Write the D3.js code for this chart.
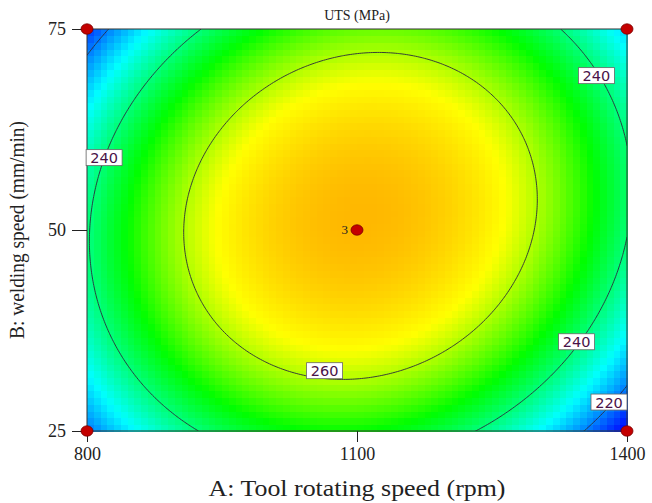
<!DOCTYPE html>
<html>
<head>
<meta charset="utf-8">
<script src="https://cdn.jsdelivr.net/npm/d3@7/dist/d3.min.js"></script>
<style>
  body { margin: 0; background: #fff; }
  svg { display: block; }
  .serif { font-family: "Liberation Serif", "Times New Roman", serif; }
</style>
</head>
<body>
<svg id="chart" width="652" height="503"></svg>
<script>
// factor ranges and ticks
const speedRange = [800, 1400];     // A: tool rotating speed (rpm)
const weldRange = [25, 75];         // B: welding speed (mm/min)
const speedTicks = [800, 1100, 1400];
const weldTicks = [25, 50, 75];

// coded quadratic model for UTS: b0, A, B, AB, A^2, B^2
const modelCoef = [274.69, 0.51, 3.09, 5.65, -34.87, -22.60];

// contour levels and label spots (A, B)
const levels = [220, 240, 260];
const contourLabels = [
    { A: 1366, B: 69.2, text: "240" },
    { A: 819, B: 59.0, text: "240" },
    { A: 1064, B: 32.5, text: "260" },
    { A: 1344, B: 36.1, text: "240" },
    { A: 1380, B: 28.6, text: "220" }
];

// design points
const designPoints = [
    { A: 800, B: 75, n: 1 },
    { A: 1400, B: 75, n: 1 },
    { A: 800, B: 25, n: 1 },
    { A: 1400, B: 25, n: 1 },
    { A: 1100, B: 50, n: 3 }
];

// colour ramp stops (UTS values)
const colorStops = [210, 230, 249, 265, 300];
const colorRange = ["#0000ff", "#00ffff", "#00ff00", "#ffff00", "#ff0000"];

function uts(A, B) {
    let x = (A - 1100) / 300;
    let y = (B - 50) / 25;
    let c = modelCoef;
    return c[0] + c[1] * x + c[2] * y + c[3] * x * y + c[4] * x * x + c[5] * y * y;
}

const svg = d3.select("#chart");
const pLeft = 87, pRight = 627, pTop = 29, pBottom = 431;

const x = d3.scaleLinear().domain(speedRange).range([pLeft, pRight]);
const y = d3.scaleLinear().domain(weldRange).range([pBottom, pTop]);
const color = d3.scaleLinear().domain(colorStops).range(colorRange).clamp(true);

svg.append("defs")
    .append("clipPath")
    .attr("id", "plotclip")
    .append("rect")
    .attr("x", pLeft)
    .attr("y", pTop)
    .attr("width", pRight - pLeft)
    .attr("height", pBottom - pTop);

// pixelated fill
const nx = 80, ny = 60;
let cells = [];
for (let j = 0; j < ny; j++) {
    for (let i = 0; i < nx; i++) {
        let a0 = speedRange[0] + (speedRange[1] - speedRange[0]) * i / nx;
        let a1 = speedRange[0] + (speedRange[1] - speedRange[0]) * (i + 1) / nx;
        let b0 = weldRange[0] + (weldRange[1] - weldRange[0]) * j / ny;
        let b1 = weldRange[0] + (weldRange[1] - weldRange[0]) * (j + 1) / ny;
        cells.push({ a0: a0, a1: a1, b0: b0, b1: b1, v: uts((a0 + a1) / 2, (b0 + b1) / 2) });
    }
}

svg.append("g")
    .selectAll("rect")
    .data(cells)
    .enter()
    .append("rect")
    .attr("x", d => x(d.a0))
    .attr("y", d => y(d.b1))
    .attr("width", d => x(d.a1) - x(d.a0) + 0.6)
    .attr("height", d => y(d.b0) - y(d.b1) + 0.6)
    .attr("fill", d => color(d.v))
    .attr("shape-rendering", "crispEdges");

// contour lines on a finer grid
const gx = 241, gy = 181;
let grid = new Array(gx * gy);
for (let j = 0; j < gy; j++) {
    for (let i = 0; i < gx; i++) {
        let a = speedRange[0] + (speedRange[1] - speedRange[0]) * i / (gx - 1);
        let b = weldRange[1] - (weldRange[1] - weldRange[0]) * j / (gy - 1);
        grid[j * gx + i] = uts(a, b);
    }
}
const contours = d3.contours().size([gx, gy]).thresholds(levels)(grid);

const sx = (pRight - pLeft) / (gx - 1), sy = (pBottom - pTop) / (gy - 1);
const proj = d3.geoTransform({
    point: function (px, py) {
        this.stream.point(pLeft + (px - 0.5) * sx, pTop + (py - 0.5) * sy);
    }
});

svg.append("g")
    .attr("clip-path", "url(#plotclip)")
    .selectAll("path")
    .data(contours)
    .enter()
    .append("path")
    .attr("d", d3.geoPath(proj))
    .attr("fill", "none")
    .attr("stroke", "#2b2b3b")
    .attr("stroke-width", 0.9);

// frame
svg.append("rect")
    .attr("x", pLeft)
    .attr("y", pTop)
    .attr("width", pRight - pLeft)
    .attr("height", pBottom - pTop)
    .attr("fill", "none")
    .attr("stroke", "#333")
    .attr("stroke-width", 1);

// contour labels
let lab = svg.append("g")
    .selectAll("g")
    .data(contourLabels)
    .enter()
    .append("g")
    .attr("transform", d => `translate(${x(d.A)},${y(d.B)})`);

lab.append("rect")
    .attr("x", -18)
    .attr("y", -8)
    .attr("width", 36)
    .attr("height", 16)
    .attr("fill", "#fff")
    .attr("stroke", "#666")
    .attr("stroke-width", 0.8);

lab.append("text")
    .attr("text-anchor", "middle")
    .attr("y", 5.5)
    .style("font-family", "'DejaVu Sans', Verdana, sans-serif")
    .style("font-size", "14.5px")
    .attr("fill", "#4a1248")
    .text(d => d.text);

// axes
const xAxis = d3.axisBottom(x).tickValues(speedTicks).tickSize(11).tickPadding(5).tickFormat(d3.format("d"));
const yAxis = d3.axisLeft(y).tickValues(weldTicks).tickSize(15).tickPadding(6).tickFormat(d3.format("d"));

let gX = svg.append("g")
    .attr("transform", `translate(0,${pBottom})`)
    .call(xAxis);
let gY = svg.append("g")
    .attr("transform", `translate(${pLeft},0)`)
    .call(yAxis);

[gX, gY].forEach(g => {
    g.select(".domain").remove();
    g.selectAll(".tick line").attr("stroke", "#222");
    g.selectAll(".tick text")
        .attr("class", "serif")
        .style("font-size", "18px")
        .attr("fill", "#222");
});

// design points
svg.append("g")
    .selectAll("ellipse")
    .data(designPoints)
    .enter()
    .append("ellipse")
    .attr("cx", d => x(d.A))
    .attr("cy", d => y(d.B))
    .attr("rx", 6)
    .attr("ry", 5.2)
    .attr("fill", "#c40000")
    .attr("stroke", "#7a0000")
    .attr("stroke-width", 0.8);

svg.append("g")
    .selectAll("text")
    .data(designPoints.filter(d => d.n > 1))
    .enter()
    .append("text")
    .attr("class", "serif")
    .attr("x", d => x(d.A) - 9)
    .attr("y", d => y(d.B) + 4)
    .attr("text-anchor", "end")
    .style("font-size", "13px")
    .attr("fill", "#222")
    .text(d => d.n);

// titles
svg.append("text")
    .attr("class", "serif")
    .attr("x", (pLeft + pRight) / 2)
    .attr("y", 20)
    .attr("text-anchor", "middle")
    .style("font-size", "14px")
    .attr("fill", "#222")
    .text("UTS (MPa)");

svg.append("text")
    .attr("class", "serif")
    .attr("x", (pLeft + pRight) / 2)
    .attr("y", 496)
    .attr("text-anchor", "middle")
    .attr("textLength", 297)
    .attr("lengthAdjust", "spacingAndGlyphs")
    .style("font-size", "23px")
    .attr("fill", "#222")
    .text("A: Tool rotating speed (rpm)");

svg.append("text")
    .attr("class", "serif")
    .attr("transform", `translate(24,${(pTop + pBottom) / 2}) rotate(-90)`)
    .attr("text-anchor", "middle")
    .attr("textLength", 218)
    .attr("lengthAdjust", "spacingAndGlyphs")
    .style("font-size", "22px")
    .attr("fill", "#222")
    .text("B: welding speed (mm/min)");
</script>
</body>
</html>
